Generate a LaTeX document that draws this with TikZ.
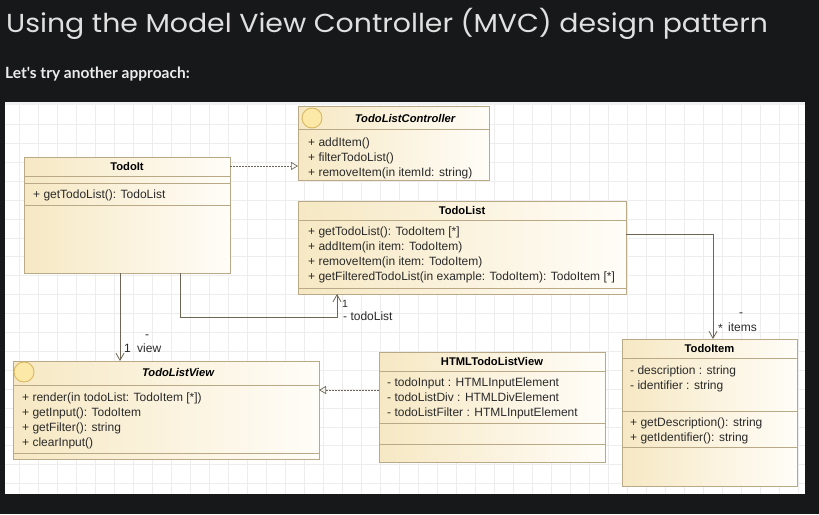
\documentclass[tikz,border=0pt]{standalone}
\usepackage{fontspec}
\setmainfont{Liberation Sans}
\newfontfamily\titlefont{Poppins}
\newfontfamily\subfont{Lato}
\usetikzlibrary{arrows.meta,calc}
\definecolor{pagebg}{HTML}{17181A}
\definecolor{gridc}{HTML}{EDEDED}
\definecolor{fillL}{HTML}{F6E8C3}
\definecolor{fillR}{HTML}{FFFDF8}
\definecolor{brd}{HTML}{B9A987}
\definecolor{conn}{HTML}{6E6554}
\definecolor{txt}{HTML}{2A2A2A}
\definecolor{circF}{HTML}{FCE9A8}
\definecolor{circB}{HTML}{D9B862}
\tikzset{
  cls/.style={draw=brd, line width=0.9pt, left color=fillL, right color=fillR, inner sep=0pt, outer sep=0pt, anchor=north west},
  comp/.style={draw=brd, line width=0.9pt},
  hdr/.style={font=\fontsize{11.2}{12}\selectfont\bfseries, text=black, anchor=base, inner sep=0pt},
  ihdr/.style={hdr, font=\fontsize{11.2}{12}\selectfont\bfseries\itshape},
  mem/.style={font=\fontsize{12}{15}\selectfont, text=txt, anchor=base west, inner sep=0pt},
  lbl/.style={font=\fontsize{12}{14}\selectfont, text=txt, anchor=base west, inner sep=0pt},
  icon/.style={circle, draw=circB, fill=circF, line width=0.9pt, minimum size=20pt, inner sep=0pt},
  dep/.style={draw=conn, line width=0.7pt, dash pattern=on 2pt off 1pt, -{Triangle[open,length=7pt,width=8pt]}},
  assoc/.style={draw=conn, line width=0.8pt, -{Straight Barb[length=7pt,width=8pt]}},
}
\begin{document}
\begin{tikzpicture}[x=1pt,y=-1pt]
\useasboundingbox (0,0) rectangle (819,514);
\fill[pagebg] (0,0) rectangle (819,514);
% title
\node[font=\titlefont\fontsize{26}{28}\selectfont, text=white!88!black, anchor=base west, inner sep=0pt] (title) at (6,32) {\scalebox{1.09}[1]{Using the Model View Controller (MVC) design pattern}};
\node[font=\subfont\bfseries\fontsize{15.5}{17}\selectfont, text=white!92!black, anchor=base west, inner sep=0pt] (sub) at (5,78) {Let's try another approach:};
% panel
\fill[white] (5,102) rectangle (805,494);
\fill[gridc!80!white] (5,102) rectangle (805,105);
\foreach \gx in {19,38,...,800} \draw[gridc, line width=0.6pt] (\gx,105) -- (\gx,494);
\foreach \k in {0,...,19} \draw[gridc, line width=0.6pt] (5,124.4+18.9*\k) -- (805,124.4+18.9*\k);

% ---------- TodoIt ----------
\node[cls, minimum width=206pt, minimum height=116pt] (todoit) at (24,157) {};
\draw[comp] (todoit.west |- 0,176) -- (todoit.east |- 0,176);
\draw[comp] (todoit.west |- 0,183) -- (todoit.east |- 0,183);
\draw[comp] (todoit.west |- 0,205) -- (todoit.east |- 0,205);
\node[hdr] (todoit-h) at (127,170) {TodoIt};
\node[mem] (todoit-m1) at (33,198) {+ getTodoList(): TodoList};

% ---------- TodoListController ----------
\node[cls, minimum width=191pt, minimum height=74pt] (ctrl) at (298,106) {};
\draw[comp] (ctrl.west |- 0,129) -- (ctrl.east |- 0,129);
\node[icon] (ctrl-icon) at (312,118) {};
\node[ihdr] (ctrl-h) at (405,122) {TodoListController};
\node[mem] (ctrl-m1) at (308,146) {+ addItem()};
\node[mem] (ctrl-m2) at (308,161) {+ filterTodoList()};
\node[mem] (ctrl-m3) at (308,176) {+ removeItem(in itemId: string)};

% ---------- TodoList ----------
\node[cls, minimum width=328pt, minimum height=93pt] (todolist) at (298,201) {};
\draw[comp] (todolist.west |- 0,220) -- (todolist.east |- 0,220);
\draw[comp] (todolist.west |- 0,288) -- (todolist.east |- 0,288);
\node[hdr] (todolist-h) at (462,214) {TodoList};
\node[mem] (todolist-m1) at (308,235) {+ getTodoList(): TodoItem [*]};
\node[mem] (todolist-m2) at (308,250) {+ addItem(in item: TodoItem)};
\node[mem] (todolist-m3) at (308,265) {+ removeItem(in item: TodoItem)};
\node[mem] (todolist-m4) at (308,280) {+ getFilteredTodoList(in example: TodoItem): TodoItem [*]};

% ---------- TodoItem ----------
\node[cls, minimum width=175pt, minimum height=147pt] (todoitem) at (622,339) {};
\draw[comp] (todoitem.west |- 0,358) -- (todoitem.east |- 0,358);
\draw[comp] (todoitem.west |- 0,411) -- (todoitem.east |- 0,411);
\draw[comp] (todoitem.west |- 0,447) -- (todoitem.east |- 0,447);
\node[hdr] (todoitem-h) at (709.5,352) {TodoItem};
\node[mem] (todoitem-a1) at (630,374) {- description : string};
\node[mem] (todoitem-a2) at (630,389) {- identifier : string};
\node[mem] (todoitem-m1) at (630,426) {+ getDescription(): string};
\node[mem] (todoitem-m2) at (630,441) {+ getIdentifier(): string};

% ---------- TodoListView ----------
\node[cls, minimum width=306pt, minimum height=98pt] (tlv) at (13,361) {};
\draw[comp] (tlv.west |- 0,385) -- (tlv.east |- 0,385);
\draw[comp] (tlv.west |- 0,453) -- (tlv.east |- 0,453);
\node[icon] (tlv-icon) at (24,372) {};
\node[ihdr] (tlv-h) at (178,376) {TodoListView};
\node[mem] (tlv-m1) at (22,401) {+ render(in todoList: TodoItem [*])};
\node[mem] (tlv-m2) at (22,416) {+ getInput(): TodoItem};
\node[mem] (tlv-m3) at (22,431) {+ getFilter(): string};
\node[mem] (tlv-m4) at (22,446) {+ clearInput()};

% ---------- HTMLTodoListView ----------
\node[cls, minimum width=226pt, minimum height=110pt] (htmlv) at (379,352) {};
\draw[comp] (htmlv.west |- 0,371) -- (htmlv.east |- 0,371);
\draw[comp] (htmlv.west |- 0,423) -- (htmlv.east |- 0,423);
\draw[comp] (htmlv.west |- 0,444) -- (htmlv.east |- 0,444);
\node[hdr] (htmlv-h) at (492,365) {HTMLTodoListView};
\node[mem] (htmlv-a1) at (387,386) {- todoInput : HTMLInputElement};
\node[mem] (htmlv-a2) at (387,401) {- todoListDiv : HTMLDivElement};
\node[mem] (htmlv-a3) at (387,416) {- todoListFilter : HTMLInputElement};

% ---------- connectors ----------
\coordinate (d1) at ($(todoit.north east)+(0,9)$);
\draw[dep] (d1) -- (d1 -| ctrl.west);

\coordinate (d2) at (379,390);
\draw[dep] (htmlv.west |- d2) -- (tlv.east |- d2);

\coordinate (v1) at ($(todoit.south west)+(96,0)$);
\draw[assoc] (v1) -- (v1 |- tlv.north);

\coordinate (t1) at ($(todoit.south west)+(156,0)$);
\coordinate (tb) at (337,317);
\draw[assoc] (t1) |- (tb) -- (tb |- todolist.south);

\coordinate (ic) at (713,234);
\draw[assoc] (todolist.east |- ic) -- (ic) -- (ic |- todoitem.north);

% ---------- role labels ----------
\node[lbl, font=\fontsize{10.5}{12}\selectfont] (lab-1a) at (342,307.5) {1};
\node[lbl] (lab-tl) at (343,320) {- todoList};
\node[lbl] (lab-dash1) at (739,316) {-};
\node[lbl] (lab-star) at (718,332) {*};
\node[lbl] (lab-items) at (728,331) {items};
\node[lbl] (lab-dash2) at (145,338) {-};
\node[lbl] (lab-1b) at (124,352) {1};
\node[lbl] (lab-view) at (137,352) {view};
\end{tikzpicture}
\end{document}
